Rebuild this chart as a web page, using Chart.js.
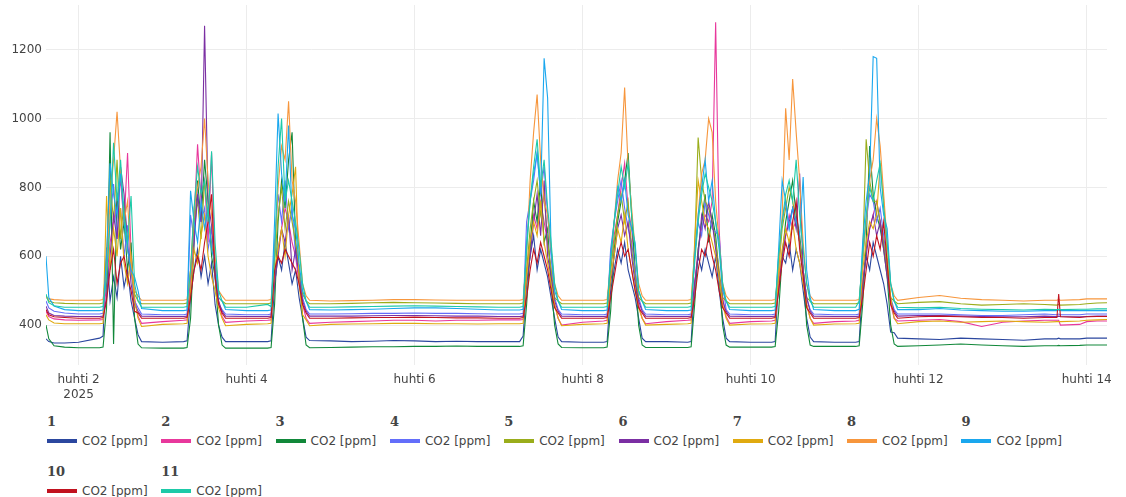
<!DOCTYPE html>
<html>
<head>
<meta charset="utf-8">
<script src="https://cdn.jsdelivr.net/npm/chart.js@4"></script>
<style>
  body { margin: 0; background: #fff; }
  #wrap { position: relative; width: 1126px; height: 497px; }
  #chart { position: absolute; left: 0; top: 0; }
  .lg { position: absolute; }
  .lt { font: bold 13px "DejaVu Serif"; color: #444; height: 19px; line-height: 19px; }
  .li { display: flex; align-items: center; height: 20px; font: 12px "DejaVu Sans"; color: #444; white-space: nowrap; }
  .sw { display: inline-block; width: 30px; height: 4px; margin-right: 5px; }
</style>
</head>
<body>
<div id="wrap">
  <canvas id="chart" width="1126" height="400"></canvas>
  <div id="legend"></div>
</div>
<script>
// hours since 2025-04-01 00:00
const hours = [
  14.7, 15.5, 17, 20,
  24, 30, 31, 32, 33, 34, 35, 36, 37, 38, 39, 40, 41, 42,
  48, 54, 55, 56, 57, 58, 59, 60, 61, 62, 63, 64, 65, 66,
  72, 78, 79, 80, 81, 82, 83, 84, 85, 86, 87, 88, 89, 90,
  96, 102, 108, 114, 120, 126, 132, 138,
  144, 150, 151, 152, 153, 154, 155, 156, 157, 158, 159, 160, 161, 162,
  168, 174, 175, 176, 177, 178, 179, 180, 181, 182, 183, 184, 185, 186,
  192, 198, 199, 200, 201, 202, 203, 204, 205, 206, 207, 208, 209, 210,
  216, 222, 223, 224, 225, 226, 227, 228, 229, 230, 231, 232, 233, 234,
  240, 246, 247, 248, 249, 250, 251, 252, 253, 254, 255, 256, 257, 258,
  264, 270, 276, 282, 288, 294, 300, 303.5, 304, 304.5, 310, 312, 315, 317.8
];

const tickHours = [24, 72, 120, 168, 216, 264, 312];
const tickLabels = [['huhti 2', '2025'], 'huhti 4', 'huhti 6', 'huhti 8', 'huhti 10', 'huhti 12', 'huhti 14'];
const yTicks = [400, 600, 800, 1000, 1200];

const groupNames = ['1', '2', '3', '4', '5', '6', '7', '8', '9', '10', '11'];
const seriesLabel = 'CO2 [ppm]';
const colors = ['#2b479f', '#e8389c', '#11883a', '#636efa', '#9aad1b', '#7b2fa3',
                '#e0aa10', '#f7963c', '#1aa7ee', '#c1121f', '#1dcaa8'];

const co2_1 = [
  360, 352, 348, 348,
  350, 362, 368, 625, 470, 540, 480, 600, 510, 560, 470, 420, 372, 352,
  350, 352, 354, 480, 560, 620, 540, 600, 520, 580, 460, 400, 365, 352,
  352, 352, 354, 520, 600, 560, 640, 580, 520, 560, 480, 420, 365, 355,
  354, 352, 353, 355, 354, 352, 353, 352,
  352, 352, 368, 520, 600, 660, 560, 620, 580, 540, 480, 420, 365, 352,
  350, 350, 352, 500, 560, 620, 580, 640, 560, 520, 480, 420, 362, 352,
  352, 350, 352, 520, 600, 560, 620, 580, 540, 600, 500, 420, 362, 352,
  350, 350, 352, 540, 600, 580, 640, 560, 620, 580, 500, 420, 365, 352,
  350, 350, 352, 520, 600, 560, 640, 600, 560, 520, 460, 380, 378, 362,
  360, 358, 362, 360, 358, 356, 360, 360, 362, 360, 360, 362, 362, 362
];
const co2_2 = [
  440, 425, 418, 415,
  414, 415, 416, 520, 640, 700, 760, 820, 690, 900, 610, 480, 425, 405,
  410, 414, 415, 540, 700, 925, 760, 820, 640, 900, 560, 470, 425, 408,
  412, 414, 415, 540, 620, 680, 740, 700, 640, 600, 520, 460, 420, 405,
  408, 410, 412, 414, 414, 412, 414, 414,
  415, 415, 416, 560, 640, 720, 680, 760, 700, 640, 560, 460, 420, 400,
  408, 412, 414, 560, 660, 720, 800, 870, 740, 680, 560, 460, 420, 404,
  410, 414, 415, 520, 620, 680, 720, 700, 760, 1280, 680, 480, 425, 405,
  410, 412, 414, 520, 600, 660, 720, 680, 700, 640, 560, 460, 420, 405,
  410, 412, 414, 520, 620, 680, 720, 760, 700, 640, 560, 460, 420, 412,
  414, 416, 410, 396, 408, 412, 414, 414, 414, 400, 402, 410, 412, 412
];
const co2_3 = [
  400, 360, 340, 336,
  334, 334, 336, 450, 960, 345, 780, 620, 700, 560, 640, 420, 345, 334,
  333, 333, 335, 420, 640, 820, 700, 880, 760, 600, 540, 400, 342, 333,
  333, 333, 335, 460, 700, 820, 740, 880, 960, 640, 560, 420, 342, 334,
  335, 336, 337, 337, 338, 338, 339, 338,
  338, 338, 340, 460, 620, 760, 700, 820, 640, 680, 520, 400, 345, 335,
  334, 334, 336, 440, 620, 700, 760, 820, 900, 720, 560, 400, 342, 335,
  335, 335, 337, 460, 620, 700, 780, 640, 720, 660, 540, 400, 342, 336,
  336, 336, 338, 440, 600, 700, 760, 820, 720, 660, 560, 400, 342, 338,
  338, 338, 340, 460, 640, 920, 780, 720, 680, 620, 540, 400, 345, 338,
  340, 342, 345, 342, 340, 338, 340, 340, 341, 340, 341, 342, 342, 342
];
const co2_4 = [
  470, 450, 440, 435,
  432, 432, 434, 560, 700, 810, 650, 740, 600, 690, 560, 470, 450, 432,
  430, 430, 432, 720, 650, 780, 700, 740, 620, 680, 540, 460, 445, 432,
  430, 430, 432, 640, 780, 700, 820, 680, 740, 600, 560, 480, 445, 432,
  432, 433, 434, 434, 435, 434, 434, 433,
  432, 432, 434, 700, 760, 820, 900, 780, 860, 720, 600, 480, 445, 432,
  430, 430, 432, 620, 700, 760, 820, 740, 680, 640, 560, 480, 445, 432,
  430, 430, 432, 600, 700, 660, 760, 720, 680, 670, 660, 520, 445, 432,
  430, 430, 432, 600, 700, 760, 680, 740, 700, 640, 560, 480, 445, 432,
  430, 430, 432, 620, 700, 780, 760, 700, 740, 660, 580, 480, 445, 432,
  432, 432, 430, 428, 428, 430, 432, 430, 432, 430, 430, 432, 432, 432
];
const co2_5 = [
  485, 470, 465, 463,
  462, 462, 464, 600, 820, 700, 880, 650, 760, 620, 560, 490, 470, 462,
  462, 462, 464, 560, 700, 760, 650, 820, 720, 640, 560, 480, 470, 462,
  462, 462, 464, 580, 720, 800, 680, 760, 700, 640, 560, 490, 470, 462,
  462, 463, 465, 466, 465, 464, 463, 462,
  462, 462, 464, 560, 680, 760, 820, 720, 780, 640, 560, 480, 470, 462,
  462, 462, 464, 560, 640, 720, 780, 700, 760, 620, 540, 480, 470, 462,
  462, 462, 464, 620, 945, 820, 760, 740, 700, 640, 560, 480, 470, 462,
  462, 462, 464, 560, 680, 740, 800, 760, 700, 640, 560, 480, 470, 462,
  462, 462, 464, 600, 940, 820, 760, 760, 700, 640, 560, 480, 470, 462,
  466, 468, 462, 458, 460, 462, 460, 458, 460, 458, 460, 462, 464, 465
];
const co2_6 = [
  455, 435, 428, 426,
  425, 425, 426, 480, 600, 720, 650, 860, 780, 640, 520, 460, 440, 426,
  425, 425, 426, 500, 640, 780, 700, 1270, 760, 690, 560, 470, 440, 426,
  425, 425, 426, 520, 600, 680, 640, 720, 560, 620, 540, 470, 440, 426,
  426, 426, 427, 428, 428, 427, 426, 426,
  425, 425, 426, 520, 600, 700, 780, 660, 820, 600, 540, 470, 440, 426,
  425, 425, 426, 520, 600, 680, 720, 660, 700, 600, 520, 470, 440, 426,
  425, 425, 426, 520, 600, 720, 680, 760, 700, 620, 540, 470, 440, 426,
  425, 425, 426, 500, 600, 660, 700, 740, 680, 840, 560, 480, 440, 426,
  425, 425, 426, 520, 600, 680, 720, 660, 700, 620, 540, 470, 440, 426,
  428, 428, 426, 425, 424, 424, 426, 425, 426, 425, 424, 425, 426, 426
];
const co2_7 = [
  430, 415, 406, 404,
  404, 404, 405, 775, 560, 680, 600, 740, 580, 520, 600, 470, 420, 396,
  402, 404, 405, 500, 620, 580, 660, 720, 600, 540, 500, 450, 420, 398,
  402, 404, 405, 560, 620, 680, 600, 720, 780, 860, 520, 430, 415, 398,
  402, 403, 404, 405, 405, 404, 404, 403,
  404, 404, 405, 540, 640, 700, 660, 760, 640, 580, 520, 460, 420, 398,
  402, 404, 405, 540, 600, 680, 640, 720, 620, 560, 500, 450, 420, 400,
  402, 404, 405, 640, 820, 760, 700, 680, 640, 600, 540, 460, 420, 400,
  403, 404, 405, 540, 620, 680, 640, 700, 620, 580, 520, 460, 420, 400,
  403, 404, 405, 560, 640, 700, 680, 720, 870, 760, 600, 480, 420, 404,
  410, 412, 408, 410, 412, 410, 408, 410, 410, 410, 412, 414, 415, 416
];
const co2_8 = [
  480, 476, 474, 472,
  472, 472, 474, 560, 760, 880, 1020, 850, 700, 760, 580, 500, 485, 472,
  472, 472, 474, 560, 740, 800, 860, 1000, 820, 720, 600, 500, 485, 472,
  472, 472, 474, 600, 800, 920, 880, 1050, 820, 760, 640, 520, 485, 472,
  470, 471, 472, 474, 474, 473, 472, 472,
  472, 472, 474, 600, 820, 960, 1070, 880, 760, 720, 620, 520, 485, 472,
  472, 472, 474, 580, 700, 820, 900, 1090, 860, 740, 620, 520, 485, 472,
  472, 472, 474, 600, 720, 840, 880, 1000, 960, 760, 640, 520, 485, 472,
  472, 472, 474, 560, 720, 1030, 880, 1115, 960, 820, 640, 520, 485, 472,
  472, 472, 474, 580, 700, 820, 880, 1000, 920, 780, 640, 520, 485, 472,
  480, 486, 478, 474, 472, 470, 472, 472, 474, 472, 474, 476, 476, 476
];
const co2_9 = [
  600, 480, 455, 445,
  442, 442, 444, 600, 870, 780, 720, 840, 700, 620, 560, 540, 500, 448,
  442, 442, 444, 790, 700, 640, 760, 680, 740, 620, 580, 480, 470, 445,
  442, 442, 444, 700, 1015, 840, 760, 980, 720, 680, 580, 500, 470, 445,
  444, 445, 446, 448, 450, 450, 448, 446,
  444, 444, 446, 640, 760, 840, 900, 780, 1175, 1060, 620, 500, 470, 445,
  442, 442, 444, 600, 700, 800, 760, 820, 720, 680, 640, 500, 470, 445,
  442, 442, 444, 600, 720, 800, 880, 760, 820, 700, 620, 500, 470, 445,
  442, 442, 444, 620, 820, 760, 680, 740, 700, 660, 830, 560, 480, 445,
  442, 442, 446, 640, 760, 840, 1180, 1175, 800, 720, 680, 520, 470, 445,
  445, 448, 444, 442, 440, 440, 442, 442, 444, 442, 442, 442, 442, 442
];
const co2_10 = [
  445, 430, 424, 422,
  420, 420, 422, 470, 560, 620, 520, 580, 600, 540, 500, 440, 435, 420,
  420, 420, 422, 480, 560, 600, 560, 640, 700, 780, 540, 460, 435, 420,
  420, 420, 422, 560, 600, 580, 620, 600, 580, 560, 520, 460, 435, 420,
  420, 421, 422, 422, 423, 422, 421, 421,
  420, 420, 422, 480, 560, 620, 580, 640, 600, 560, 500, 450, 435, 420,
  420, 420, 422, 480, 540, 600, 640, 600, 620, 560, 500, 450, 435, 420,
  420, 420, 422, 480, 560, 620, 600, 660, 600, 560, 500, 450, 435, 420,
  420, 420, 422, 500, 580, 640, 600, 700, 760, 620, 540, 450, 435, 420,
  420, 420, 422, 480, 560, 640, 600, 660, 620, 700, 580, 460, 435, 420,
  424, 426, 424, 422, 422, 420, 422, 422, 490, 424, 422, 424, 425, 425
];
const co2_11 = [
  490, 465, 456, 452,
  452, 452, 454, 540, 700, 930, 760, 880, 720, 640, 775, 520, 470, 452,
  452, 452, 454, 560, 740, 860, 780, 820, 700, 905, 640, 500, 470, 452,
  452, 460, 454, 600, 860, 1000, 760, 820, 760, 700, 620, 520, 470, 452,
  452, 453, 454, 455, 456, 455, 454, 453,
  452, 452, 454, 620, 760, 860, 940, 800, 880, 740, 640, 520, 470, 452,
  452, 452, 454, 580, 700, 780, 860, 800, 870, 720, 620, 500, 470, 452,
  452, 452, 454, 580, 700, 780, 840, 800, 760, 700, 640, 520, 470, 452,
  452, 452, 454, 600, 700, 780, 820, 760, 880, 720, 620, 520, 470, 452,
  452, 452, 470, 600, 720, 800, 760, 820, 870, 740, 640, 520, 470, 452,
  450, 452, 448, 446, 445, 444, 446, 445, 446, 445, 446, 446, 447, 447
];

const allSeries = [co2_1, co2_2, co2_3, co2_4, co2_5, co2_6, co2_7, co2_8, co2_9, co2_10, co2_11];

Chart.defaults.font.family = '"DejaVu Sans", Verdana, sans-serif';
Chart.defaults.font.size = 12;
Chart.defaults.color = '#444';

const datasets = allSeries.map((vals, i) => ({
  label: groupNames[i] + ' ' + seriesLabel,
  data: hours.map((h, k) => ({ x: h, y: vals[k] })),
  borderColor: colors[i],
  backgroundColor: colors[i],
  borderWidth: 1.1,
  pointRadius: 0,
  tension: 0,
  order: allSeries.length - i
}));

new Chart(document.getElementById('chart'), {
  type: 'line',
  data: { datasets: datasets },
  options: {
    responsive: false,
    animation: false,
    layout: { padding: { top: 5, right: 19, left: 0, bottom: 0 } },
    plugins: {
      legend: { display: false },
      tooltip: { enabled: false }
    },
    scales: {
      x: {
        type: 'linear',
        min: 14.7,
        max: 317.8,
        grid: { color: '#ececec', drawTicks: false },
        border: { display: false },
        ticks: {
          padding: 8,
          maxRotation: 0,
          autoSkip: false,
          callback: (v, i) => tickLabels[i]
        },
        afterBuildTicks: s => { s.ticks = tickHours.map(v => ({ value: v })); },
        afterFit: s => { s.height = 35; s.paddingLeft = 0; s.paddingRight = 0; }
      },
      y: {
        min: 284,
        max: 1330,
        grid: { color: '#ececec', drawTicks: false },
        border: { display: false },
        ticks: { padding: 4, callback: v => String(v) },
        afterBuildTicks: s => { s.ticks = yTicks.map(v => ({ value: v })); },
        afterFit: s => { s.width = 46; s.paddingTop = 0; s.paddingBottom = 0; }
      }
    }
  }
});

// legend, grouped like the original (group title above each item)
const legend = document.getElementById('legend');
groupNames.forEach((name, i) => {
  const col = i % 9, row = Math.floor(i / 9);
  const div = document.createElement('div');
  div.className = 'lg';
  div.style.left = (47 + col * 114.3) + 'px';
  div.style.top = (412 + row * 49.5) + 'px';
  div.innerHTML = '<div class="lt">' + name + '</div>' +
    '<div class="li"><span class="sw" style="background:' + colors[i] + '"></span>' + seriesLabel + '</div>';
  legend.appendChild(div);
});
</script>
</body>
</html>
